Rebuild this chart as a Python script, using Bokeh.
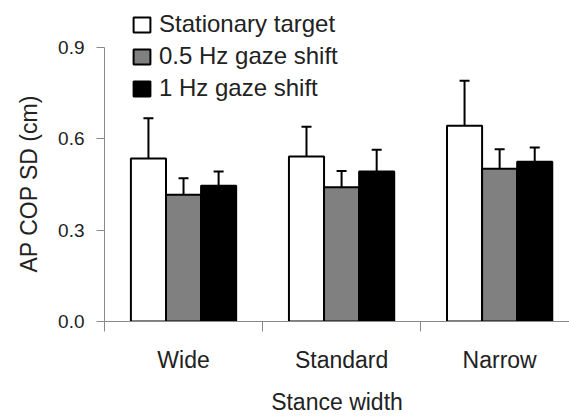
from bokeh.plotting import figure
from bokeh.models import (Range1d, FixedTicker, PrintfTickFormatter, Legend, LegendItem,
                          Whisker, ColumnDataSource, TeeHead, Title)
from bokeh.embed import file_html
from bokeh.resources import INLINE

# ---- data ----
categories = ["Wide", "Standard", "Narrow"]
series_names = ["Stationary target", "0.5 Hz gaze shift", "1 Hz gaze shift"]
stationary_mean = [0.535, 0.541, 0.642]
stationary_sd = [0.132, 0.098, 0.148]
hz05_mean = [0.416, 0.440, 0.501]
hz05_sd = [0.054, 0.054, 0.064]
hz1_mean = [0.445, 0.492, 0.524]
hz1_sd = [0.047, 0.071, 0.047]
y_ticks = [0.0, 0.3, 0.6, 0.9]

means = [stationary_mean, hz05_mean, hz1_mean]
sds = [stationary_sd, hz05_sd, hz1_sd]
colors = ["#ffffff", "#808080", "#000000"]
bar_w = 0.222
offsets = [-bar_w, 0.0, bar_w]

FONT = "Liberation Sans"
TXT = "#222222"
AX = "#888888"

p = figure(width=569, height=417, x_range=Range1d(0, 2.942), y_range=Range1d(0, 1.053),
           output_backend="svg", toolbar_location=None,
           min_border_left=103, min_border_right=0, min_border_top=0, min_border_bottom=95)
p.xgrid.visible = False
p.ygrid.visible = False
p.outline_line_color = None

items = []
for name, m, s, c, off in zip(series_names, means, sds, colors, offsets):
    src = ColumnDataSource(dict(
        x=[i + 0.5 + off for i in range(len(categories))],
        top=m,
        upper=[a + b for a, b in zip(m, s)],
    ))
    r = p.vbar(x="x", top="top", width=bar_w, bottom=0, source=src,
               fill_color=c, line_color="black", line_width=2)
    w = Whisker(base="x", lower="top", upper="upper", source=src,
                upper_head=TeeHead(size=10, line_width=2, line_color="black"),
                lower_head=None, line_width=2, line_color="black", level="annotation")
    p.add_layout(w)
    items.append(LegendItem(label=name, renderers=[r]))

legend = Legend(items=items, location=(27, 219), glyph_width=21, glyph_height=19,
                label_standoff=7, spacing=4, padding=0, margin=0,
                border_line_color=None, background_fill_alpha=0,
                label_text_font=FONT, label_text_font_size="24px", label_text_color=TXT)
p.add_layout(legend)

# y axis
ya = p.yaxis[0]
ya.ticker = FixedTicker(ticks=y_ticks)
ya.formatter = PrintfTickFormatter(format="%.1f")
ya.bounds = (y_ticks[0], y_ticks[-1])
ya.axis_line_color = AX
ya.major_tick_line_color = AX
ya.major_tick_out = 8
ya.major_tick_in = 0
ya.minor_tick_line_color = None
ya.major_label_standoff = 12
ya.major_label_text_font = FONT
ya.major_label_text_font_size = "19px"
ya.major_label_text_color = TXT

# y axis title, placed in the left panel next to the bounded axis
ytitle = Title(text="AP COP SD (cm)", align="left", offset=49, standoff=27,
               text_font=FONT, text_font_size="23px", text_font_style="normal",
               text_color=TXT)
p.add_layout(ytitle, "left")

# x axis
xa = p.xaxis[0]
xa.ticker = FixedTicker(ticks=[i + 0.5 for i in range(len(categories))],
                        minor_ticks=list(range(len(categories) + 1)))
xa.major_label_overrides = {i + 0.5: c for i, c in enumerate(categories)}
xa.axis_line_color = AX
xa.major_tick_line_color = None
xa.major_tick_out = 0
xa.major_tick_in = 0
xa.minor_tick_line_color = AX
xa.minor_tick_out = 10
xa.minor_tick_in = 0
xa.major_label_standoff = 15
xa.major_label_text_font = FONT
xa.major_label_text_font_size = "23px"
xa.major_label_text_color = TXT
xa.axis_label = "Stance width"
xa.axis_label_text_font = FONT
xa.axis_label_text_font_size = "23px"
xa.axis_label_text_font_style = "normal"
xa.axis_label_text_color = TXT
xa.axis_label_standoff = 13

open("out.html", "w").write(file_html(p, INLINE))
